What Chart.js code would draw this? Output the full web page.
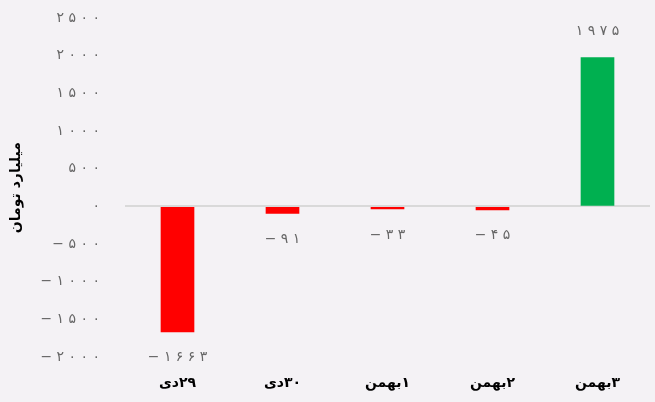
<!DOCTYPE html>
<html>
<head>
<meta charset="utf-8">
<script src="https://cdn.jsdelivr.net/npm/chart.js@4/dist/chart.umd.min.js"></script>
<style>
  html, body { margin: 0; padding: 0; background: #f4f2f5; }
  #wrap { width: 655px; height: 402px; position: relative; }
</style>
</head>
<body>
<div id="wrap"><canvas id="c"></canvas></div>
<script>
// Daily net flow, in billion toman
const categories = ['۲۹دی', '۳۰دی', '۱بهمن', '۲بهمن', '۳بهمن'];
const values = [-1663, -91, -33, -45, 1975];
const barColors = ['#ff0000', '#ff0000', '#ff0000', '#ff0000', '#00b050'];
const yTicks = [-2000, -1500, -1000, -500, 0, 500, 1000, 1500, 2000, 2500];
const yTitle = 'میلیارد تومان';

const numFont = '"DejaVu Sans"';
const faDigits = '۰۱۲۳۴۵۶۷۸۹';
// Persian digits, spaced out one by one, with a leading minus for negatives
function faNum(v) {
  const s = String(Math.abs(v)).split('').map(d => faDigits[+d]);
  if (v < 0) s.unshift('−');
  return s.join(' ');
}

const valueLabels = {
  id: 'valueLabels',
  afterDatasetsDraw(chart) {
    const { ctx } = chart;
    const y = chart.scales.y;
    const meta = chart.getDatasetMeta(0);
    ctx.save();
    ctx.font = '14px ' + numFont;
    ctx.fillStyle = '#666666';
    ctx.textAlign = 'center';
    ctx.textBaseline = 'middle';
    meta.data.forEach((bar, i) => {
      const v = values[i];
      const py = y.getPixelForValue(v) + (v < 0 ? 26 : -26);
      ctx.fillText(faNum(v), bar.x, py);
    });
    ctx.restore();
  }
};

new Chart(document.getElementById('c'), {
  type: 'bar',
  data: {
    labels: categories.map(c => '\u200F' + c),
    datasets: [{
      data: values,
      backgroundColor: barColors,
      barThickness: 33,
      borderWidth: 0
    }]
  },
  options: {
    responsive: true,
    maintainAspectRatio: false,
    animation: false,
    layout: { padding: { top: 18, right: 5, bottom: 0, left: 8 } },
    plugins: { legend: { display: false }, tooltip: { enabled: false } },
    scales: {
      x: {
        grid: { display: false },
        border: { display: false },
        ticks: {
          color: '#000000',
          font: { family: 'DejaVu Sans', size: 14, weight: 'bold' },
          padding: 10
        }
      },
      y: {
        min: -2000,
        max: 2500,
        afterBuildTicks(scale) { scale.ticks = yTicks.map(v => ({ value: v })); },
        afterFit(scale) { scale.width = 117; },
        border: { display: false },
        grid: {
          drawTicks: true,
          tickLength: 22,
          tickColor: 'rgba(0,0,0,0)',
          lineWidth: ctx => (ctx.tick && ctx.tick.value === 0 ? 2 : 0),
          color: '#d9d9d9'
        },
        ticks: {
          color: '#666666',
          font: { family: numFont, size: 14 },
          padding: 3,
          callback: v => faNum(v)
        },
        title: {
          display: true,
          text: yTitle,
          color: '#000000',
          font: { family: 'DejaVu Sans', size: 14, weight: 'bold' },
          padding: { top: 0, bottom: 12 }
        }
      }
    }
  },
  plugins: [valueLabels]
});
</script>
</body>
</html>
